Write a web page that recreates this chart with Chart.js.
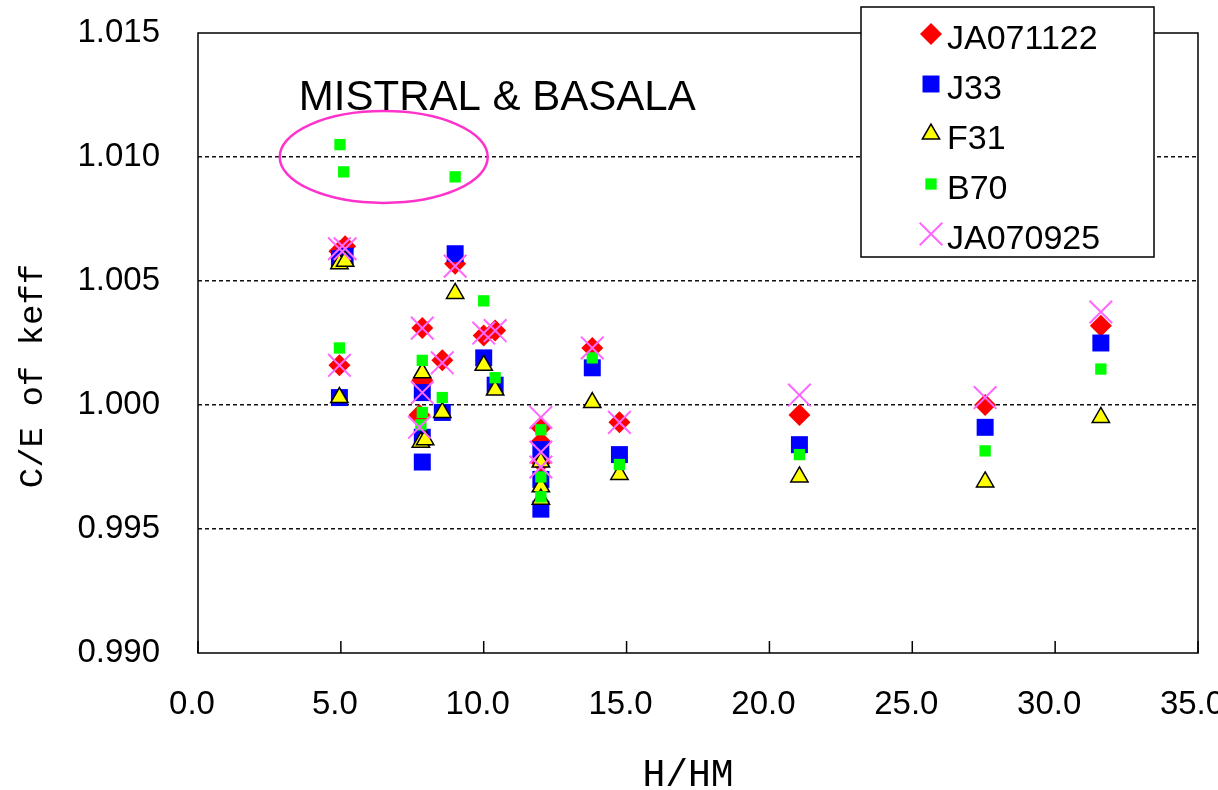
<!DOCTYPE html>
<html>
<head>
<meta charset="utf-8">
<title>C/E of keff vs H/HM</title>
<script src="https://cdn.jsdelivr.net/npm/chart.js@4.4.1/dist/chart.umd.min.js"></script>
<style>
  html, body { margin: 0; padding: 0; background: #fff; }
  #wrap { width: 1218px; height: 790px; position: relative; }
</style>
</head>
<body>
<div id="wrap"><canvas id="myChart"></canvas></div>
<script>
'use strict';

// legend order
var seriesNames = ['JA071122', 'J33', 'F31', 'B70', 'JA070925'];

// H/HM (x) and C/E (y)
var ja071122X = [4.95, 5.15, 9.0, 4.95, 7.85, 7.85, 7.75, 8.55, 10.0, 10.4, 12.0, 12.0, 12.0, 13.8, 14.75, 21.05, 27.55, 31.6];
var ja071122Y = [1.0062, 1.0064, 1.0057, 1.0016, 1.0031, 1.0010, 0.9996, 1.0018, 1.0028, 1.0030, 0.9991, 0.9985, 0.9977, 1.0023, 0.9993, 0.9996, 1.0000, 1.0032];

var j33X = [4.95, 5.15, 9.0, 4.95, 7.85, 7.85, 7.85, 8.55, 10.0, 10.4, 12.0, 12.0, 12.0, 13.8, 14.75, 21.05, 27.55, 31.6];
var j33Y = [1.0059, 1.0060, 1.0061, 1.0003, 1.0005, 0.9987, 0.9977, 0.9997, 1.0019, 1.0008, 0.9982, 0.9970, 0.9958, 1.0015, 0.9980, 0.9984, 0.9991, 1.0025];

var f31X = [4.95, 5.15, 9.0, 4.95, 7.85, 7.8, 7.95, 8.55, 10.0, 10.4, 12.0, 12.0, 12.0, 13.8, 14.75, 21.05, 27.55, 31.6];
var f31Y = [1.0057, 1.0058, 1.0045, 1.0003, 1.0013, 0.9985, 0.9986, 0.9997, 1.0016, 1.0006, 0.9977, 0.9967, 0.9962, 1.0001, 0.9972, 0.9971, 0.9969, 0.9995];

var b70X = [4.97, 5.1, 9.0, 4.95, 7.85, 7.85, 7.8, 8.55, 10.0, 10.4, 12.0, 12.0, 12.0, 13.8, 14.75, 21.05, 27.55, 31.6];
var b70Y = [1.0105, 1.0094, 1.0092, 1.0023, 1.0018, 0.9997, 0.9992, 1.0003, 1.0042, 1.0011, 0.9990, 0.9971, 0.9963, 1.0019, 0.9976, 0.9980, 0.99815, 1.00145];

var ja070925X = [4.95, 5.15, 9.0, 4.95, 7.85, 7.85, 7.75, 8.55, 10.0, 10.4, 12.0, 12.0, 12.0, 13.8, 14.75, 21.05, 27.55, 31.6];
var ja070925Y = [1.0063, 1.0063, 1.0056, 1.0016, 1.0031, 1.0005, 0.9991, 1.0017, 1.0029, 1.0030, 0.9995, 0.9981, 0.9975, 1.0023, 0.9993, 1.0004, 1.0003, 1.00375];

// axis ticks and titles
var xTicks = [0, 5, 10, 15, 20, 25, 30, 35];
var yTicks = [0.990, 0.995, 1.000, 1.005, 1.010, 1.015];
var xTitle = 'H/HM';
var yTitle = 'C/E of keff';

// note and ring round the MISTRAL & BASALA points (data units)
var noteText = 'MISTRAL & BASALA';
var noteAt = [3.53, 1.01238];
var ringCenter = [6.5, 1.0100];
var ringRadius = [3.64, 0.00185];

function toPoints(xs, ys) {
  return xs.map(function (x, i) { return { x: x, y: ys[i] }; });
}

Chart.defaults.font.family = '"Liberation Sans", Arial, sans-serif';
Chart.defaults.color = '#000';

var datasets = [
  { label: seriesNames[0], data: toPoints(ja071122X, ja071122Y), order: 5,
    pointStyle: 'rectRot', pointRadius: 11, backgroundColor: '#ff0000', borderColor: '#ff0000', borderWidth: 0 },
  { label: seriesNames[1], data: toPoints(j33X, j33Y), order: 4,
    pointStyle: 'rect', pointRadius: 12, backgroundColor: '#0000ff', borderColor: '#0000ff', borderWidth: 0 },
  { label: seriesNames[2], data: toPoints(f31X, f31Y), order: 3,
    pointStyle: 'triangle', pointRadius: 10, backgroundColor: '#ffff00', borderColor: '#000000', borderWidth: 1.5 },
  { label: seriesNames[3], data: toPoints(b70X, b70Y), order: 2,
    pointStyle: 'rect', pointRadius: 8, backgroundColor: '#00ff00', borderColor: '#00ff00', borderWidth: 0 },
  { label: seriesNames[4], data: toPoints(ja070925X, ja070925Y), order: 1,
    pointStyle: 'crossRot', pointRadius: 16, backgroundColor: '#ff66ff', borderColor: '#ff66ff', borderWidth: 2 }
];
datasets.forEach(function (d) {
  d.pointHoverRadius = d.pointRadius;
  d.showLine = false;
});

// frame, inward x ticks, axis titles, ring, note and legend box
var decor = {
  id: 'decor',
  beforeDatasetsDraw: function (chart) {
    var ctx = chart.ctx;
    var a = chart.chartArea;
    var xs = chart.scales.x;
    ctx.save();
    ctx.strokeStyle = '#000';
    ctx.lineWidth = 1.5;
    ctx.strokeRect(a.left, a.top, a.right - a.left, a.bottom - a.top);
    ctx.beginPath();
    xTicks.forEach(function (v) {
      var px = xs.getPixelForValue(v);
      ctx.moveTo(px, a.bottom);
      ctx.lineTo(px, a.bottom - 12);
    });
    ctx.stroke();

    // axis titles, set off centre as in the source
    ctx.fillStyle = '#000';
    ctx.textAlign = 'center';
    ctx.textBaseline = 'middle';
    ctx.font = '38px "Liberation Mono", monospace';
    ctx.fillText(xTitle, (a.left + a.right) / 2 - 10, 776);
    ctx.translate(33, (a.top + a.bottom) / 2 + 33);
    ctx.rotate(-Math.PI / 2);
    ctx.font = '34px "Liberation Mono", monospace';
    ctx.fillText(yTitle, 0, 0);
    ctx.restore();
  },
  afterDatasetsDraw: function (chart) {
    var ctx = chart.ctx;
    var xs = chart.scales.x;
    var ys = chart.scales.y;
    var cx = xs.getPixelForValue(ringCenter[0]);
    var cy = ys.getPixelForValue(ringCenter[1]);
    var rx = xs.getPixelForValue(ringCenter[0] + ringRadius[0]) - cx;
    var ry = cy - ys.getPixelForValue(ringCenter[1] + ringRadius[1]);
    ctx.save();
    ctx.strokeStyle = '#ff33cc';
    ctx.lineWidth = 2.5;
    ctx.beginPath();
    ctx.ellipse(cx, cy, rx, ry, 0, 0, Math.PI * 2);
    ctx.stroke();
    ctx.fillStyle = '#000';
    ctx.font = '42px "Liberation Sans", Arial, sans-serif';
    ctx.textAlign = 'left';
    ctx.textBaseline = 'middle';
    ctx.fillText(noteText, xs.getPixelForValue(noteAt[0]), ys.getPixelForValue(noteAt[1]));
    ctx.restore();
  },
  afterDraw: function (chart) {
    var ctx = chart.ctx;
    ctx.save();
    ctx.fillStyle = '#fff';
    ctx.fillRect(861, 7, 293, 250);
    ctx.strokeStyle = '#000';
    ctx.lineWidth = 1.5;
    ctx.strokeRect(861, 7, 293, 250);
    ctx.font = '34px "Liberation Sans", Arial, sans-serif';
    ctx.textAlign = 'left';
    ctx.textBaseline = 'middle';
    chart.data.datasets.forEach(function (d, i) {
      var ty = 40 + i * 50;
      ctx.fillStyle = d.backgroundColor;
      ctx.strokeStyle = d.borderColor;
      ctx.lineWidth = d.borderWidth;
      Chart.helpers.drawPoint(ctx, {
        pointStyle: d.pointStyle, radius: d.pointRadius, rotation: 0, borderWidth: d.borderWidth
      }, 931, ty - 6);
      ctx.fillStyle = '#000';
      ctx.fillText(d.label, 947, ty);
    });
    ctx.restore();
  }
};

var ctx = document.getElementById('myChart').getContext('2d');
var myChart = new Chart(ctx, {
  type: 'scatter',
  data: { datasets: datasets },
  options: {
    responsive: true,
    maintainAspectRatio: false,
    animation: false,
    events: [],
    layout: { padding: { top: 33, right: 20, left: 0, bottom: 0 } },
    plugins: { legend: { display: false }, tooltip: { enabled: false } },
    scales: {
      x: {
        type: 'linear',
        min: xTicks[0],
        max: xTicks[xTicks.length - 1],
        afterBuildTicks: function (scale) {
          scale.ticks = xTicks.map(function (v) { return { value: v }; });
        },
        afterFit: function (scale) {
          scale.height = 137;
          scale.paddingLeft = 0;
          scale.paddingRight = 0;
        },
        grid: { display: false, drawTicks: false },
        border: { display: false },
        ticks: {
          font: { size: 33 },
          padding: 32,
          labelOffset: -6,
          maxRotation: 0,
          autoSkip: false,
          callback: function (v) { return Number(v).toFixed(1); }
        }
      },
      y: {
        type: 'linear',
        min: yTicks[0],
        max: yTicks[yTicks.length - 1],
        afterBuildTicks: function (scale) {
          scale.ticks = yTicks.map(function (v) { return { value: v }; });
        },
        afterFit: function (scale) {
          scale.width = 198;
          scale.paddingTop = 0;
          scale.paddingBottom = 0;
        },
        grid: {
          drawTicks: false,
          lineWidth: 1.4,
          color: function (c) {
            var v = c.tick ? c.tick.value : 0;
            return (Math.abs(v - yTicks[0]) < 1e-6 || Math.abs(v - yTicks[yTicks.length - 1]) < 1e-6) ? 'rgba(0,0,0,0)' : '#111';
          }
        },
        border: { display: false, dash: [4, 3] },
        ticks: {
          font: { size: 33 },
          padding: 38,
          autoSkip: false,
          callback: function (v) { return Number(v).toFixed(3); }
        }
      }
    }
  },
  plugins: [decor]
});
</script>
</body>
</html>
